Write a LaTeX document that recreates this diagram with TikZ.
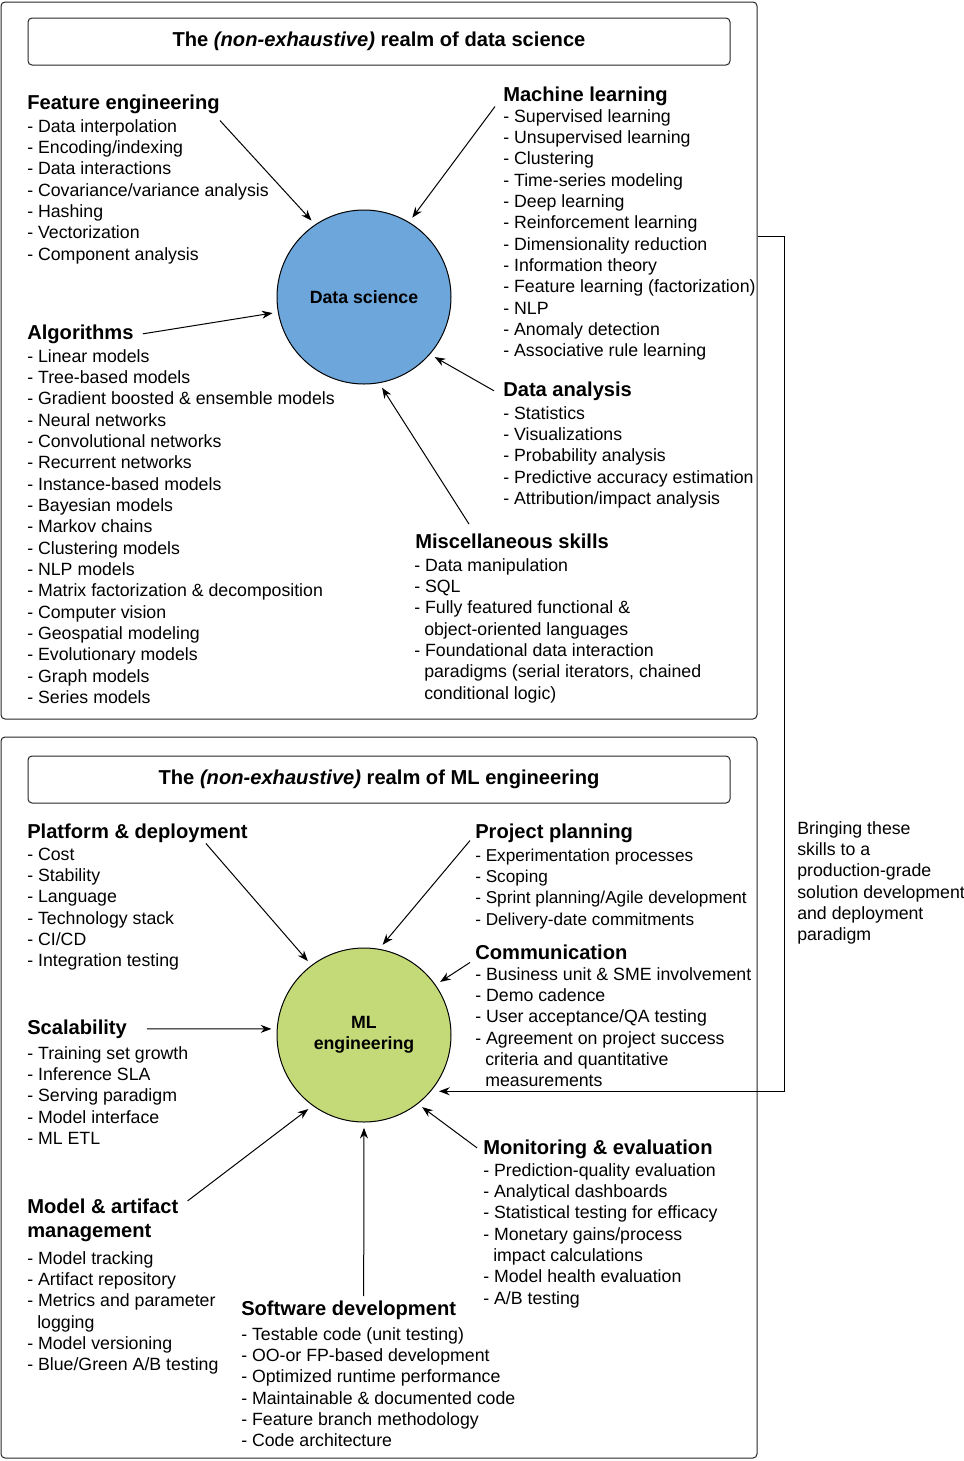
\documentclass[tikz,border=0pt]{standalone}
\usepackage{fontspec}
\setmainfont{Liberation Sans}
\usetikzlibrary{arrows.meta}

\definecolor{dsblue}{RGB}{108,166,218}
\definecolor{mlgreen}{RGB}{196,218,120}
\newcommand{\bodyfont}{\fontsize{13.3}{16}\selectfont}
\newcommand{\headfont}{\fontsize{15.1}{18}\selectfont\bfseries}
\newcommand{\ind}{\hspace{7.5pt}}

\tikzset{
	head/.style={anchor=base west, inner sep=0pt, font=\headfont},
	items/.style={anchor=base west, inner sep=0pt, font=\bodyfont},
	hub/.style={circle, draw, line width=0.75pt, minimum size=130.5pt, inner sep=0pt, align=center, font=\bodyfont\bfseries},
	frame/.style={draw=black!85, line width=0.75pt, rounded corners=3pt, inner sep=0pt},
	titlebox/.style={frame, font=\headfont, minimum width=526.5pt, minimum height=35.25pt},
	arr/.style={-{Stealth[length=8pt,width=6pt]}, line width=0.75pt, shorten >=4pt},
}

\begin{document}
\begin{tikzpicture}[x=0.75pt,y=-0.75pt]
	\useasboundingbox (0,0) rectangle (964,1461);
	
	% data science part
	\node[frame, minimum width=567pt, minimum height=537.75pt] (dsframe) at (379,360.5) {};
	\node[titlebox] (dstitle) at (379,41.5) {The \textit{(non-exhaustive)} realm of data science};
	\node[hub, fill=dsblue] (ds) at (364,297) {Data science};
	
	\node[head] (fe) at (27,109) {Feature engineering};
	\node[items] (felist) at (27,132) {\begin{tabular}[t]{@{}l@{}}
		- Data interpolation\\
		- Encoding/indexing\\
		- Data interactions\\
		- Covariance/variance analysis\\
		- Hashing\\
		- Vectorization\\
		- Component analysis
	\end{tabular}};
	
	\node[head] (mach) at (503,101) {Machine learning};
	\node[items] (machlist) at (503,122) {\begin{tabular}[t]{@{}l@{}}
		- Supervised learning\\
		- Unsupervised learning\\
		- Clustering\\
		- Time-series modeling\\
		- Deep learning\\
		- Reinforcement learning\\
		- Dimensionality reduction\\
		- Information theory\\
		- Feature learning (factorization)\\
		- NLP\\
		- Anomaly detection\\
		- Associative rule learning
	\end{tabular}};
	
	\node[head] (alg) at (27,339) {Algorithms};
	\node[items] (alglist) at (27,362) {\begin{tabular}[t]{@{}l@{}}
		- Linear models\\
		- Tree-based models\\
		- Gradient boosted \& ensemble models\\
		- Neural networks\\
		- Convolutional networks\\
		- Recurrent networks\\
		- Instance-based models\\
		- Bayesian models\\
		- Markov chains\\
		- Clustering models\\
		- NLP models\\
		- Matrix factorization \& decomposition\\
		- Computer vision\\
		- Geospatial modeling\\
		- Evolutionary models\\
		- Graph models\\
		- Series models
	\end{tabular}};
	
	\node[head] (da) at (503,396) {Data analysis};
	\node[items] (dalist) at (503,419) {\begin{tabular}[t]{@{}l@{}}
		- Statistics\\
		- Visualizations\\
		- Probability analysis\\
		- Predictive accuracy estimation\\
		- Attribution/impact analysis
	\end{tabular}};
	
	\node[head] (misc) at (415,548) {Miscellaneous skills};
	\node[items] (misclist) at (414,571) {\begin{tabular}[t]{@{}l@{}}
		- Data manipulation\\
		- SQL\\
		- Fully featured functional \&\\
		\ind object-oriented languages\\
		- Foundational data interaction\\
		\ind paradigms (serial iterators, chained\\
		\ind conditional logic)
	\end{tabular}};
	
	\draw[arr] ([shift={(0,7)}]fe.south east) -- (ds.124);
	\draw[arr] ([shift={(-8,1)}]mach.south west) -- (ds.59);
	\draw[arr] ([shift={(9,0)}]alg.east) -- (ds.190);
	\draw[arr] ([shift={(-9,0)}]da.west) -- (ds.-41);
	\draw[arr] ([shift={(-43,-9)}]misc.north) -- (ds.-80);
	
	% ML engineering part
	\node[frame, minimum width=567pt, minimum height=540.75pt] (mleframe) at (379,1097.5) {};
	\node[titlebox] (mletitle) at (379,779.5) {The \textit{(non-exhaustive)} realm of ML engineering};
	\node[hub, fill=mlgreen] (mle) at (364,1035) {ML\\engineering};
	
	\node[head] (plat) at (27,838) {Platform \& deployment};
	\node[items] (platlist) at (27,860) {\begin{tabular}[t]{@{}l@{}}
		- Cost\\
		- Stability\\
		- Language\\
		- Technology stack\\
		- CI/CD\\
		- Integration testing
	\end{tabular}};
	
	\node[head] (proj) at (475,838) {Project planning};
	\node[items, font=\fontsize{12.9}{16}\selectfont] (projlist) at (475,861) {\begin{tabular}[t]{@{}l@{}}
		- Experimentation processes\\
		- Scoping\\
		- Sprint planning/Agile development\\
		- Delivery-date commitments
	\end{tabular}};
	
	\node[head] (comm) at (475,959) {Communication};
	\node[items] (commlist) at (475,980) {\begin{tabular}[t]{@{}l@{}}
		- Business unit \& SME involvement\\
		- Demo cadence\\
		- User acceptance/QA testing\\
		- Agreement on project success\\
		\ind criteria and quantitative\\
		\ind measurements
	\end{tabular}};
	
	\node[head] (scal) at (27,1034) {Scalability};
	\node[items] (scallist) at (27,1059) {\begin{tabular}[t]{@{}l@{}}
		- Training set growth\\
		- Inference SLA\\
		- Serving paradigm\\
		- Model interface\\
		- ML ETL
	\end{tabular}};
	
	\node[head] (mart) at (27,1213) {\begin{tabular}[t]{@{}l@{}}
		Model \& artifact\\
		management
	\end{tabular}};
	\node[items] (martlist) at (27,1264) {\begin{tabular}[t]{@{}l@{}}
		- Model tracking\\
		- Artifact repository\\
		- Metrics and parameter\\
		\ind logging\\
		- Model versioning\\
		- Blue/Green A/B testing
	\end{tabular}};
	
	\node[head] (sw) at (241,1315) {Software development};
	\node[items] (swlist) at (241,1340) {\begin{tabular}[t]{@{}l@{}}
		- Testable code (unit testing)\\
		- OO-or FP-based development\\
		- Optimized runtime performance\\
		- Maintainable \& documented code\\
		- Feature branch methodology\\
		- Code architecture
	\end{tabular}};
	
	\node[head] (mon) at (483,1154) {Monitoring \& evaluation};
	\node[items] (monlist) at (483,1176) {\begin{tabular}[t]{@{}l@{}}
		- Prediction-quality evaluation\\
		- Analytical dashboards\\
		- Statistical testing for efficacy\\
		- Monetary gains/process\\
		\ind impact calculations\\
		- Model health evaluation\\
		- A/B testing
	\end{tabular}};
	
	\draw[arr] ([shift={(-42,1)}]plat.south east) -- (mle.127);
	\draw[arr] ([shift={(-5,-2)}]proj.south west) -- (mle.80);
	\draw[arr] ([shift={(-5,3)}]comm.south west) -- (mle.35);
	\draw[arr] ([shift={(20,0)}]scal.east) -- (mle.176);
	\draw[arr] ([shift={(9,5)}]mart.north east) -- (mle.234);
	\draw[arr] ([shift={(15,-4)}]sw.north) -- (mle.270);
	\draw[arr] ([shift={(-6,-1)}]mon.west) -- (mle.-52);
	
	% link between the two parts
	\node[items] (note) at (797,834) {\begin{tabular}[t]{@{}l@{}}
		Bringing these\\
		skills to a\\
		production-grade\\
		solution development\\
		and deployment\\
		paradigm
	\end{tabular}};
	\draw[arr, shorten >=6pt] ([shift={(0,235)}]dsframe.north east) -- ++(27,0) |- (mle.-40);
\end{tikzpicture}
\end{document}
